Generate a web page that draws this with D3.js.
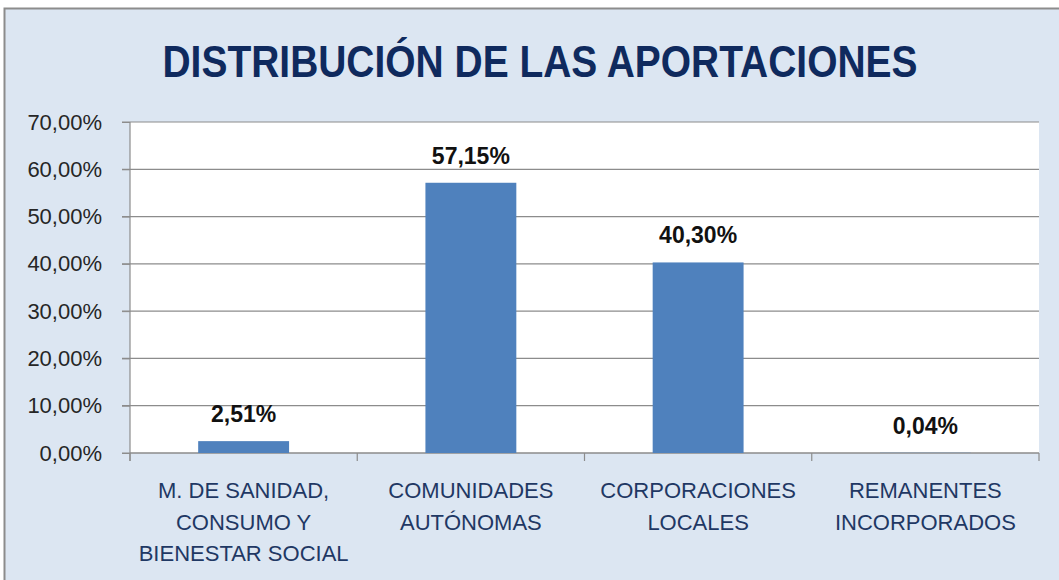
<!DOCTYPE html>
<html>
<head>
<meta charset="utf-8">
<script src="https://cdn.jsdelivr.net/npm/d3@7"></script>
<style>
  body { margin: 0; background: #fff; }
  text { font-family: "Liberation Sans", Arial, sans-serif; }
</style>
</head>
<body>
<div id="chart"></div>
<script>
var svgWidth = 1059;
var svgHeight = 580;

var categories = [
  ["M. DE SANIDAD,", "CONSUMO Y", "BIENESTAR SOCIAL"],
  ["COMUNIDADES", "AUTÓNOMAS"],
  ["CORPORACIONES", "LOCALES"],
  ["REMANENTES", "INCORPORADOS"]
];
var values = [2.51, 57.15, 40.30, 0.04];
var yTicks = [0, 10, 20, 30, 40, 50, 60, 70];

var plot = { left: 130, top: 122, right: 1039, bottom: 453 };

var svg = d3.select("#chart")
  .append("svg")
  .attr("width", svgWidth)
  .attr("height", svgHeight);

// chart area background + border
svg.append("rect")
  .attr("x", 4.5).attr("y", 8.5)
  .attr("width", svgWidth + 10).attr("height", svgHeight + 10)
  .attr("fill", "#dce6f2")
  .attr("stroke", "#8c8c8c")
  .attr("stroke-width", 2);

svg.append("text")
  .attr("x", 540).attr("y", 77)
  .attr("text-anchor", "middle")
  .attr("textLength", 755)
  .attr("lengthAdjust", "spacingAndGlyphs")
  .style("font-size", "44px")
  .style("font-weight", "bold")
  .style("fill", "#0f2a5e")
  .text("DISTRIBUCIÓN DE LAS APORTACIONES");

var x = d3.scaleBand()
  .domain(d3.range(values.length))
  .range([plot.left, plot.right])
  .paddingInner(0.6)
  .paddingOuter(0.3);

var y = d3.scaleLinear()
  .domain([0, 70])
  .range([plot.bottom, plot.top]);

svg.append("rect")
  .attr("x", plot.left).attr("y", plot.top)
  .attr("width", plot.right - plot.left)
  .attr("height", plot.bottom - plot.top)
  .attr("fill", "#fff");

// gridlines
svg.append("g")
  .selectAll("line")
  .data(yTicks)
  .enter()
  .append("line")
  .attr("x1", plot.left - 8).attr("x2", plot.right)
  .attr("y1", d => y(d)).attr("y2", d => y(d))
  .attr("stroke", "#8c8c8c")
  .attr("stroke-width", 1.2);

// y axis
var yaxis = d3.axisLeft(y)
  .tickValues(yTicks)
  .tickSize(8)
  .tickFormat(d => d3.format(".2f")(d).replace(".", ",") + "%");
var chartLeft = svg.append("g")
  .attr("transform", `translate(${plot.left}, 0)`)
  .call(yaxis);
chartLeft.select(".domain").attr("stroke", "#8c8c8c").attr("stroke-width", 1.2)
  .attr("d", `M0,${plot.top}V${plot.bottom + 8}`);
chartLeft.selectAll(".tick line").attr("stroke", "#8c8c8c");
chartLeft.selectAll(".tick text")
  .attr("x", -28)
  .style("font-size", "22px")
  .style("fill", "#262626")
  .style("font-family", "'Liberation Sans', Arial, sans-serif");

// x axis line and category ticks
var step = (plot.right - plot.left) / values.length;
svg.append("line")
  .attr("x1", plot.left).attr("x2", plot.right)
  .attr("y1", plot.bottom).attr("y2", plot.bottom)
  .attr("stroke", "#8c8c8c").attr("stroke-width", 1.2);
svg.append("g")
  .selectAll("line")
  .data(d3.range(values.length + 1))
  .enter()
  .append("line")
  .attr("x1", d => plot.left + d * step).attr("x2", d => plot.left + d * step)
  .attr("y1", plot.bottom).attr("y2", plot.bottom + 8)
  .attr("stroke", "#8c8c8c").attr("stroke-width", 1.2);

// bars
svg.append("g")
  .selectAll("rect")
  .data(values)
  .enter()
  .append("rect")
  .attr("x", (d, i) => x(i))
  .attr("y", d => y(d))
  .attr("width", x.bandwidth())
  .attr("height", d => plot.bottom - y(d))
  .attr("fill", "#4f81bd");

// value labels
svg.append("g")
  .selectAll("text")
  .data(values)
  .enter()
  .append("text")
  .attr("x", (d, i) => x(i) + x.bandwidth() / 2)
  .attr("y", d => y(d) - 19)
  .attr("text-anchor", "middle")
  .style("font-size", "23px")
  .style("font-weight", "bold")
  .style("fill", "#111")
  .text(d => d3.format(".2f")(d).replace(".", ",") + "%");

// category labels
var catG = svg.append("g")
  .selectAll("text")
  .data(categories)
  .enter()
  .append("text")
  .attr("text-anchor", "middle")
  .attr("x", (d, i) => x(i) + x.bandwidth() / 2)
  .attr("y", 498)
  .style("font-size", "22px")
  .style("fill", "#1f3864");
catG.selectAll("tspan")
  .data(d => d)
  .enter()
  .append("tspan")
  .attr("x", function() { return d3.select(this.parentNode).attr("x"); })
  .attr("dy", (d, i) => i === 0 ? 0 : 31.5)
  .text(d => d);
</script>
</body>
</html>
